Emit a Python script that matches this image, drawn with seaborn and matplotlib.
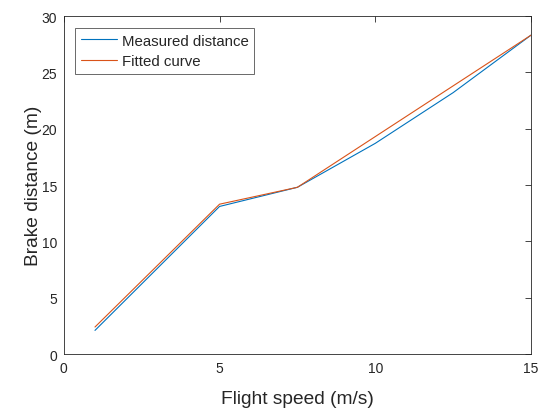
import matplotlib
matplotlib.use("Agg")
import matplotlib.pyplot as plt
import seaborn as sns
import pandas as pd

speed = [1, 5, 7.5, 10, 12.5, 15]
measured = [2.1, 13.1, 14.8, 18.7, 23.2, 28.3]
fitted = [2.4, 13.3, 14.8, 19.3, 23.8, 28.3]
labels = ["Measured distance", "Fitted curve"]

sns.set_theme(style="white")
plt.rcParams['font.family'] = ['Liberation Sans', 'DejaVu Sans']

df = pd.DataFrame({
    "speed": speed * 2,
    "dist": measured + fitted,
    "series": [labels[0]] * len(speed) + [labels[1]] * len(speed),
})

fig = plt.figure(figsize=(5.41, 4.10), dpi=100)
ax = fig.add_axes([0.118, 0.134, 0.8635, 0.8245])
sns.lineplot(data=df, x="speed", y="dist", hue="series",
             palette=["#0072BD", "#D95319"], linewidth=0.8, ax=ax)

ax.set_xlim(0, 15)
ax.set_ylim(0, 30)
ax.set_xticks([0, 5, 10, 15])
ax.set_yticks([0, 5, 10, 15, 20, 25, 30])
ax.set_xlabel("Flight speed (m/s)", fontsize=13.8, color="#262626")
ax.set_ylabel("Brake distance (m)", fontsize=13.8, color="#262626")
ax.xaxis.set_label_coords(0.5, -0.105)
ax.yaxis.set_label_coords(-0.046, 0.5)
ax.tick_params(direction="in", top=True, right=True, length=4, width=0.6,
               labelsize=10, colors="#262626", pad=5)
for s in ax.spines.values():
    s.set_linewidth(0.6)
    s.set_color("#262626")

leg = ax.legend(loc="upper left", bbox_to_anchor=(0.0236, 0.965), fontsize=10.8,
                frameon=True, fancybox=False, edgecolor="#262626",
                handlelength=2.4, handletextpad=0.33, borderpad=0.38,
                labelspacing=0.46, borderaxespad=0.0)
leg.get_frame().set_linewidth(0.6)
leg.set_title(None)

fig.savefig("out.png", dpi=100)
